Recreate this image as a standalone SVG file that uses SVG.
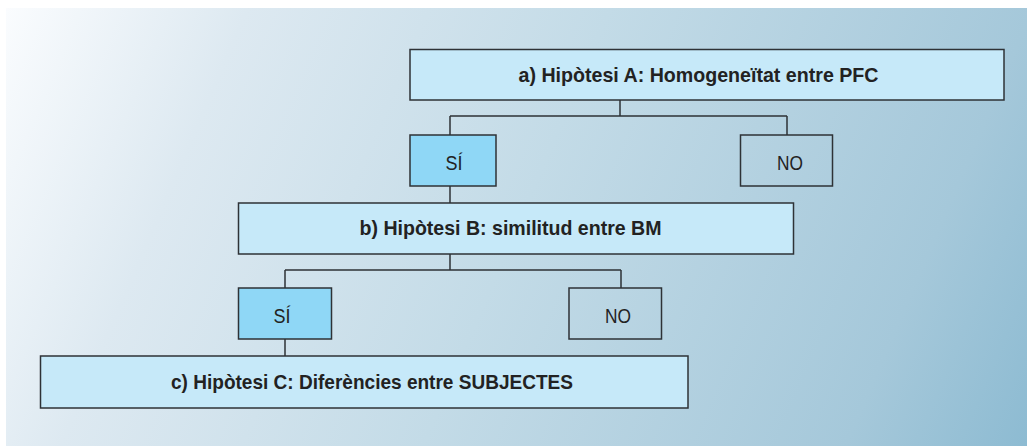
<svg xmlns="http://www.w3.org/2000/svg" width="1027" height="446" viewBox="0 0 1027 446">
<defs>
<linearGradient id="bg" gradientUnits="userSpaceOnUse" x1="6" y1="8" x2="1027" y2="446">
<stop offset="0" stop-color="#fafcfe"/>
<stop offset="0.2" stop-color="#dde9f1"/>
<stop offset="0.5" stop-color="#c3dbe7"/>
<stop offset="0.85" stop-color="#a5c8da"/>
<stop offset="1" stop-color="#8dbbd2"/>
</linearGradient>
<style>
.hyp{fill:#c6e9f9;stroke:#2e3236;stroke-width:1.5}
.si{fill:#8fd7f6;stroke:#2e3236;stroke-width:1.5}
.no{fill:none;stroke:#2e3236;stroke-width:1.5}
.lbl{font-family:"Liberation Sans",Arial,sans-serif;font-weight:bold;font-size:20.5px;fill:#222;text-anchor:middle}
.ans{font-family:"Liberation Sans",Arial,sans-serif;font-size:20px;fill:#222;text-anchor:middle}
.con{fill:none;stroke:#2e3236;stroke-width:1.5}
</style>
</defs>
<rect x="6" y="8" width="1021" height="438" fill="url(#bg)"/>
<g id="connectors">
<path class="con" d="M620 100 V116 M450 116 H787 M450 116 V135 M787 116 V135"/>
<path class="con" d="M450 186 V203"/>
<path class="con" d="M450 254 V270 M285 270 H621 M285 270 V288 M621 270 V288"/>
<path class="con" d="M285 339 V356"/>
</g>
<g id="hypA">
<rect class="hyp" x="410" y="49.5" width="594" height="50.5"/>
<text class="lbl" x="698.5" y="82" textLength="360" lengthAdjust="spacingAndGlyphs">a) Hipòtesi A: Homogeneïtat entre PFC</text>
</g>
<g id="siA">
<rect class="si" x="410" y="135" width="86" height="51"/>
<text class="ans" x="454" y="170" textLength="17" lengthAdjust="spacingAndGlyphs">SÍ</text>
</g>
<g id="noA">
<rect class="no" x="740.5" y="135" width="92" height="51"/>
<text class="ans" x="790" y="170" textLength="26" lengthAdjust="spacingAndGlyphs">NO</text>
</g>
<g id="hypB">
<rect class="hyp" x="238.5" y="203" width="555" height="51"/>
<text class="lbl" x="510.5" y="235" textLength="302" lengthAdjust="spacingAndGlyphs">b) Hipòtesi B: similitud entre BM</text>
</g>
<g id="siB">
<rect class="si" x="238.5" y="288" width="93" height="51"/>
<text class="ans" x="282" y="323" textLength="17" lengthAdjust="spacingAndGlyphs">SÍ</text>
</g>
<g id="noB">
<rect class="no" x="569" y="288" width="92.5" height="51"/>
<text class="ans" x="618" y="323" textLength="26" lengthAdjust="spacingAndGlyphs">NO</text>
</g>
<g id="hypC">
<rect class="hyp" x="40.5" y="356" width="647.5" height="52"/>
<text class="lbl" x="372" y="389" textLength="402" lengthAdjust="spacingAndGlyphs">c) Hipòtesi C: Diferències entre SUBJECTES</text>
</g>
</svg>
